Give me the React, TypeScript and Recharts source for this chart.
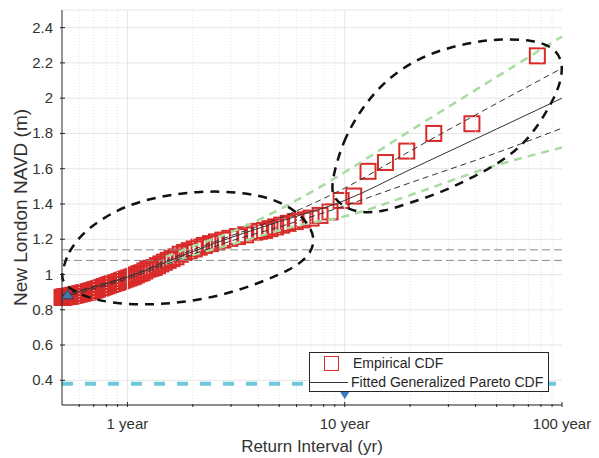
import React from 'react'
import { ComposedChart, Scatter, Line, XAxis, YAxis, CartesianGrid, ReferenceLine } from 'recharts'

// ranked observations: return interval (yr) and water level (m)
const empT = [
  77, 38.5, 25.7, 19.3, 15.4, 12.8, 11.0, 9.63, 8.56, 7.7, 7.0, 6.42, 5.92, 5.5, 5.13, 4.81, 4.53, 4.28, 4.05, 3.85,
  3.5, 3.21, 2.96, 2.75, 2.57, 2.41, 2.26, 2.14, 2.03, 1.925, 1.833, 1.75, 1.674, 1.604, 1.54, 1.481, 1.426, 1.375,
  1.328, 1.283, 1.242, 1.203, 1.167, 1.132, 1.1, 1.069, 1.041, 1.013, 0.987, 0.963, 0.939, 0.917, 0.895, 0.875, 0.856,
  0.837, 0.819, 0.802, 0.786, 0.77, 0.755, 0.74, 0.726, 0.713, 0.7, 0.688, 0.675, 0.664, 0.653, 0.642, 0.631, 0.621,
  0.611, 0.602, 0.592, 0.583, 0.575, 0.566, 0.558, 0.55, 0.542, 0.535, 0.527, 0.52, 0.513, 0.507, 0.5,
]
const empLevel = [
  2.24, 1.855, 1.8, 1.7, 1.635, 1.585, 1.445, 1.42, 1.355, 1.335, 1.32, 1.31, 1.3, 1.29, 1.28, 1.27, 1.26, 1.25, 1.245, 1.24,
  1.225, 1.215, 1.205, 1.195, 1.185, 1.175, 1.165, 1.155, 1.145, 1.135, 1.125, 1.115, 1.1, 1.09, 1.08, 1.07, 1.06, 1.05,
  1.04, 1.035, 1.03, 1.02, 1.01, 1.005, 0.998, 0.99, 0.985, 0.98, 0.975, 0.97, 0.965, 0.96, 0.955, 0.952, 0.948,
  0.944, 0.94, 0.936, 0.932, 0.928, 0.924, 0.92, 0.917, 0.914, 0.911, 0.908, 0.905, 0.903, 0.9, 0.898, 0.896, 0.894,
  0.892, 0.89, 0.888, 0.886, 0.884, 0.882, 0.88, 0.878, 0.877, 0.876, 0.875, 0.874, 0.873, 0.872, 0.87,
]

// fitted GPD curve and its confidence bounds
const fitT = [0.5, 1, 2, 3, 5, 10, 20, 50, 100]
const fitLevel = [0.88, 0.985, 1.13, 1.21, 1.3, 1.42, 1.595, 1.825, 2.0]
const ciUpper = [0.885, 0.99, 1.14, 1.22, 1.32, 1.49, 1.7, 1.97, 2.17]
const ciLower = [0.87, 0.975, 1.115, 1.19, 1.27, 1.39, 1.52, 1.69, 1.83]

// green bounds
const bandT = [1.5, 2, 3, 6.2, 10, 20, 50, 100]
const bandUpper = [1.1, 1.16, 1.24, 1.43, 1.58, 1.815, 2.12, 2.35]
const bandLower = [1.06, 1.11, 1.17, 1.28, 1.33, 1.45, 1.62, 1.72]

// hand drawn ellipses
const ell1T = [0.5, 0.533, 0.618, 0.748, 0.975, 1.41, 2.16, 3.29, 4.62, 5.9, 6.9, 7.35, 6.75, 5.6, 4.07, 2.67, 1.75, 1.2, 0.83, 0.64, 0.533, 0.5]
const ell1Level = [1.014, 1.128, 1.23, 1.309, 1.389, 1.445, 1.474, 1.468, 1.434, 1.366, 1.281, 1.185, 1.094, 1.026, 0.952, 0.878, 0.839, 0.827, 0.839, 0.873, 0.924, 0.969]
const ell2T = [8.55, 9.8, 12.1, 15.0, 19.9, 27.4, 39.0, 51.9, 73.6, 91, 100, 100, 95.8, 86, 73.6, 62, 48.2, 36.5, 27.4, 19.9, 15.0, 11.8, 10.2, 9.0]
const ell2Level = [1.497, 1.763, 1.95, 2.086, 2.2, 2.274, 2.319, 2.336, 2.33, 2.291, 2.217, 2.132, 2.047, 1.933, 1.803, 1.706, 1.61, 1.536, 1.462, 1.406, 1.355, 1.349, 1.377, 1.423]

const thresholds = [1.14, 1.08]
const cyanLevel = 0.38
const lineEnds = [0.5, 100]

const xTicks = [0.6, 0.7, 0.8, 0.9, 1, 2, 3, 4, 5, 6, 7, 8, 9, 10, 20, 30, 40, 50, 60, 70, 80, 90, 100]
const xMajor = [1, 10]
const xMinor = [0.6, 0.7, 0.8, 0.9, 2, 3, 4, 5, 6, 7, 8, 9, 20, 30, 40, 50, 60, 70, 80, 90]
const xLabels: Record<number, string> = { 1: '1 year', 10: '10 year', 100: '100 year' }
const yTicks = [0.4, 0.6, 0.8, 1, 1.2, 1.4, 1.6, 1.8, 2, 2.2, 2.4]

const zip = (ts: number[], vs: number[]) => ts.map((t, i) => ({ t, v: vs[i] }))

const FONT = '"Liberation Sans", Arial, sans-serif'
const AX = '#262626'
const TXT = '#333'
const RED = '#d92a2a'

const BottomTick = (p: any) => {
  const v = p.payload.value
  const len = xLabels[v] ? 5 : 3
  return (
    <g>
      <line x1={p.x} x2={p.x} y1={p.y} y2={p.y - len} stroke={AX} />
      {xLabels[v] && (
        <text x={p.x} y={p.y + 22} textAnchor="middle" fontSize={15} fill={TXT} fontFamily={FONT}>
          {xLabels[v]}
        </text>
      )}
    </g>
  )
}

const TopTick = (p: any) => {
  const len = xLabels[p.payload.value] ? 5 : 3
  return <line x1={p.x} x2={p.x} y1={p.y} y2={p.y + len} stroke={AX} />
}

const LeftTick = (p: any) => (
  <g>
    <line x1={p.x} x2={p.x + 5} y1={p.y} y2={p.y} stroke={AX} />
    <text x={p.x - 7} y={p.y} dy={5} textAnchor="end" fontSize={15} fill={TXT} fontFamily={FONT}>
      {String(p.payload.value)}
    </text>
  </g>
)

const RightTick = (p: any) => <line x1={p.x} x2={p.x - 5} y1={p.y} y2={p.y} stroke={AX} />

const Square = (p: any) => (
  <rect x={p.cx - 7.5} y={p.cy - 7.5} width={15} height={15} fill="none" stroke={RED} strokeWidth={2} />
)
const DownTri = (p: any) => (
  <path d={`M${p.cx - 5},${p.cy - 4}L${p.cx + 5},${p.cy - 4}L${p.cx},${p.cy + 4}Z`} fill="#3d7cc9" />
)
const UpTri = (p: any) => (
  <path d={`M${p.cx - 6},${p.cy + 4}L${p.cx + 6},${p.cy + 4}L${p.cx},${p.cy - 5}Z`} fill="#4a78a8" stroke="#2b3f60" />
)

export default function App() {
  return (
    <div style={{ position: 'relative', width: 591, height: 450, fontFamily: FONT }}>
      <ComposedChart width={591} height={450} margin={{ top: 2, right: 37, bottom: 0, left: 0 }}>
        <CartesianGrid vertical={false} stroke="#e6e6e6" />
        {xMinor.map((v) => (
          <ReferenceLine key={'m' + v} x={v} stroke="#e2e2e2" strokeDasharray="1 2" />
        ))}
        {xMajor.map((v) => (
          <ReferenceLine key={'M' + v} x={v} stroke="#e6e6e6" />
        ))}
        <XAxis
          dataKey="t"
          type="number"
          scale="log"
          domain={[0.5, 100]}
          ticks={xTicks}
          interval={0}
          tickSize={0}
          tickLine={false}
          tick={BottomTick}
          axisLine={{ stroke: AX }}
          height={53}
          label={{ value: 'Return Interval (yr)', position: 'insideBottom', offset: 6, fontSize: 17, fill: TXT }}
        />
        <XAxis
          xAxisId="top"
          orientation="top"
          dataKey="t"
          type="number"
          scale="log"
          domain={[0.5, 100]}
          allowDataOverflow
          ticks={xTicks}
          interval={0}
          tickSize={0}
          tickLine={false}
          tick={TopTick}
          axisLine={{ stroke: AX }}
          height={0}
        />
        <YAxis
          dataKey="v"
          type="number"
          domain={[0.26, 2.5]}
          ticks={yTicks}
          interval={0}
          tickSize={0}
          tickLine={false}
          tick={LeftTick}
          axisLine={{ stroke: AX }}
          width={54}
          label={{ value: 'New London NAVD (m)', angle: -90, position: 'insideLeft', offset: 12, fontSize: 19, fill: TXT, style: { textAnchor: 'middle' } }}
        />
        <YAxis
          yAxisId="right"
          orientation="right"
          dataKey="v"
          type="number"
          domain={[0.26, 2.5]}
          allowDataOverflow
          ticks={yTicks}
          interval={0}
          tickSize={0}
          tickLine={false}
          tick={RightTick}
          axisLine={{ stroke: AX }}
          width={0}
        />

        {thresholds.map((lv) => (
          <Line key={'h' + lv} data={lineEnds.map((t) => ({ t, v: lv }))} dataKey="v" type="linear" stroke="#8a8a8a" strokeWidth={1} strokeDasharray="8 4" dot={false} isAnimationActive={false} />
        ))}
        <Line data={lineEnds.map((t) => ({ t, v: cyanLevel }))} dataKey="v" type="linear" stroke="#6cc8dc" strokeWidth={4} strokeDasharray="11 12" dot={false} isAnimationActive={false} />

        <Scatter data={zip(empT, empLevel)} dataKey="v" shape={Square} isAnimationActive={false} zIndex={350} />

        <Line data={zip(bandT, bandUpper)} dataKey="v" type="monotone" stroke="#a8dba0" strokeWidth={2.5} strokeDasharray="8 6" dot={false} isAnimationActive={false} />
        <Line data={zip(bandT, bandLower)} dataKey="v" type="monotone" stroke="#a8dba0" strokeWidth={2.5} strokeDasharray="8 6" dot={false} isAnimationActive={false} />
        <Line data={zip(fitT, ciUpper)} dataKey="v" type="monotone" stroke="#333" strokeWidth={1} strokeDasharray="6 4" dot={false} isAnimationActive={false} />
        <Line data={zip(fitT, ciLower)} dataKey="v" type="monotone" stroke="#333" strokeWidth={1} strokeDasharray="6 4" dot={false} isAnimationActive={false} />
        <Line data={zip(fitT, fitLevel)} dataKey="v" type="monotone" stroke="#333" strokeWidth={1} dot={false} isAnimationActive={false} />

        <Line data={zip(ell1T, ell1Level)} dataKey="v" type="basisClosed" stroke="#111" strokeWidth={2.5} strokeDasharray="9 7" dot={false} isAnimationActive={false} />
        <Line data={zip(ell2T, ell2Level)} dataKey="v" type="basisClosed" stroke="#111" strokeWidth={2.5} strokeDasharray="9 7" dot={false} isAnimationActive={false} />

        <Scatter data={[{ t: 0.53, v: 0.885 }]} dataKey="v" shape={UpTri} isAnimationActive={false} />
        <Scatter data={[{ t: 10, v: 0.315 }]} dataKey="v" shape={DownTri} isAnimationActive={false} />
      </ComposedChart>

      <div
        style={{
          position: 'absolute',
          left: 301,
          top: 344,
          width: 238,
          height: 38,
          border: '1px solid #262626',
          background: '#fff',
          fontSize: 14,
          color: '#262626',
          lineHeight: '16px',
        }}
      >
        <div style={{ position: 'absolute', left: 14, top: 3, width: 13, height: 13, border: `1px solid ${RED}` }} />
        <div style={{ position: 'absolute', left: 43, top: 2 }}>Empirical CDF</div>
        <div style={{ position: 'absolute', left: -1, top: 29, width: 39, borderTop: '1px solid #333' }} />
        <div style={{ position: 'absolute', left: 41, top: 21 }}>Fitted Generalized Pareto CDF</div>
      </div>
    </div>
  )
}
